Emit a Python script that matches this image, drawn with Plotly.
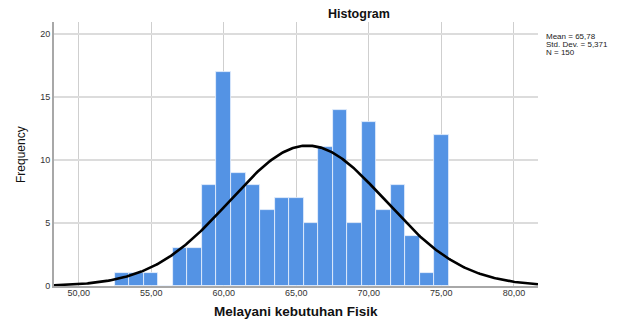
import numpy as np
import plotly.graph_objects as go

bin_centers = list(range(53, 76))
counts = [1, 1, 1, 0, 3, 3, 8, 17, 9, 8, 6, 7, 7, 5, 11, 14, 5, 13, 6, 8, 4, 1, 12]
mean_val = 65.78
std_val = 5.371
n_val = 150
stats_lines = ["Mean = 65,78", "Std. Dev. = 5,371", "N = 150"]
x_ticks = [50, 55, 60, 65, 70, 75, 80]
x_tick_labels = ["50,00", "55,00", "60,00", "65,00", "70,00", "75,00", "80,00"]
y_ticks = [0, 5, 10, 15, 20]

x_range = [48.3, 81.66]
xs = np.linspace(x_range[0], x_range[1], 400)
ys = n_val * 1.0 / (std_val * np.sqrt(2 * np.pi)) * np.exp(-0.5 * ((xs - mean_val) / std_val) ** 2)

fig = go.Figure()
fig.add_trace(go.Bar(
    x=bin_centers, y=counts, width=1,
    marker=dict(color="rgb(84,147,228)", line=dict(color="rgb(235,242,252)", width=0.8)),
    showlegend=False, hoverinfo="x+y",
))
fig.add_trace(go.Scatter(
    x=xs, y=ys, mode="lines", line=dict(color="black", width=2.6),
    showlegend=False, hoverinfo="skip",
))

# page has an 8px body margin; figure is sized/margined to compensate
fig.update_layout(
    width=612, height=313,
    margin=dict(l=46, r=82, t=14, b=35, autoexpand=False),
    paper_bgcolor="white", plot_bgcolor="white",
    bargap=0,
    font=dict(family="Liberation Sans, Arial, sans-serif", color="#222"),
    xaxis=dict(
        range=x_range, tickvals=x_ticks, ticktext=x_tick_labels,
        showgrid=True, gridcolor="#cfcfcf", gridwidth=1,
        showline=True, linecolor="#a8a8a8", linewidth=2,
        ticks="", tickfont=dict(size=9, color="#333"), automargin=False,
        ticklabelstandoff=-3,
        zeroline=False,
    ),
    yaxis=dict(
        range=[0, 20.95], tickvals=y_ticks,
        showgrid=True, gridcolor="#dcdcdc", gridwidth=1.5,
        showline=True, linecolor="#a8a8a8", linewidth=2,
        ticks="", tickfont=dict(size=9, color="#333"), automargin=False,
        ticklabelstandoff=0,
        zeroline=False,
    ),
)

fig.add_annotation(x=0.630, y=1.0295, xref="paper", yref="paper", xanchor="center", yanchor="middle",
                   text="<b>Histogram</b>", showarrow=False, font=dict(size=12.5, color="#111"))
fig.add_annotation(x=0.501, y=-0.0966, xref="paper", yref="paper", xanchor="center", yanchor="middle",
                   text="<b>Melayani kebutuhan Fisik</b>", showarrow=False, font=dict(size=13.5, color="#111"))
fig.add_annotation(x=-0.0682, y=0.5, xref="paper", yref="paper", xanchor="center", yanchor="middle",
                   text="Frequency", textangle=-90, showarrow=False, font=dict(size=12, color="#111"))

for line, yy in zip(stats_lines, [0.9443, 0.9129, 0.8852]):
    fig.add_annotation(x=1.0124, y=yy, xref="paper", yref="paper", xanchor="left", yanchor="middle",
                       text=line, showarrow=False, align="left", font=dict(size=8, color="#222"))

fig.write_html("out.html")
